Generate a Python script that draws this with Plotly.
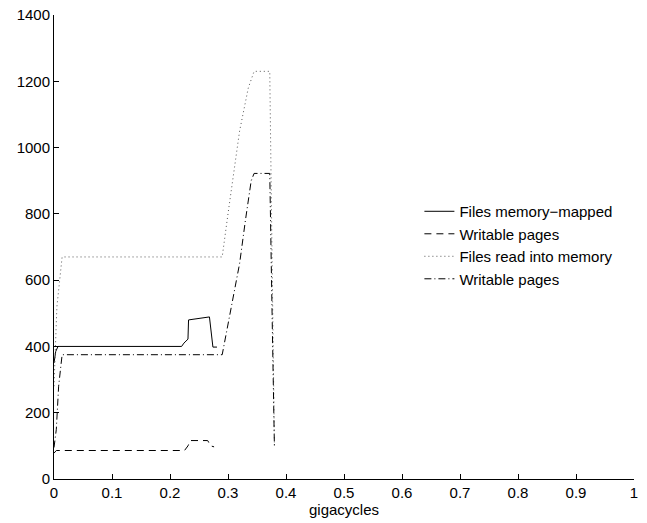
import plotly.graph_objects as go

# Memory usage (pages) against time in gigacycles
mm_x = [0.0, 0.003, 0.007, 0.22, 0.224, 0.231, 0.232, 0.268, 0.274, 0.281]
mm_y = [350, 385, 400, 400, 410, 422, 480, 489, 398, 398]

mm_w_x = [0.0, 0.004, 0.225, 0.231, 0.235, 0.265, 0.270, 0.276]
mm_w_y = [78, 86, 86, 100, 116, 116, 100, 97]

rd_x = [0.0, 0.005, 0.014, 0.29, 0.30, 0.31, 0.32, 0.335, 0.345, 0.372, 0.376, 0.38]
rd_y = [280, 520, 670, 670, 800, 930, 1050, 1180, 1230, 1230, 600, 100]

rd_w_x = [0.0, 0.004, 0.008, 0.014, 0.29, 0.30, 0.31, 0.32, 0.33, 0.34, 0.345, 0.372, 0.376, 0.38]
rd_w_y = [95, 150, 280, 375, 375, 470, 560, 650, 780, 900, 922, 922, 500, 100]

names = ["Files memory\u2212mapped", "Writable pages",
         "Files read into memory", "Writable pages"]
dashes = ["solid", "7px,5px", "1px,3px", "7px,3px,1px,3px"]
colors = ["#000000", "#000000", "#555555", "#000000"]

FONT = "Liberation Sans, Arial, Helvetica"

fig = go.Figure()
for xs, ys, nm, ds, col in zip([mm_x, mm_w_x, rd_x, rd_w_x],
                               [mm_y, mm_w_y, rd_y, rd_w_y],
                               names, dashes, colors):
    fig.add_trace(go.Scatter(x=xs, y=ys, mode="lines", name=nm,
                             line=dict(color=col, width=1, dash=ds)))

axis_common = dict(showgrid=False, zeroline=False, showline=True,
                   linecolor="#000000", linewidth=1, ticks="inside",
                   ticklen=5, tickcolor="#000000", automargin=False,
                   tickfont=dict(family=FONT, size=15, color="#000000"))

fig.update_layout(
    width=647, height=523,
    margin=dict(l=54, r=13, t=15, b=44),
    paper_bgcolor="white", plot_bgcolor="white",
    font=dict(family=FONT, size=15, color="#000000"),
    xaxis=dict(range=[0, 1], tickvals=[i / 10 for i in range(11)],
               ticktext=["0", "0.1", "0.2", "0.3", "0.4", "0.5", "0.6",
                         "0.7", "0.8", "0.9", "1"],
               title=dict(text="gigacycles", standoff=3,
                          font=dict(size=15)),
               **axis_common),
    yaxis=dict(range=[0, 1400], tickvals=list(range(0, 1401, 200)),
               **axis_common),
    legend=dict(x=0.63, y=0.612, xanchor="left", yanchor="top",
                bgcolor="rgba(0,0,0,0)", borderwidth=0,
                font=dict(size=15), tracegroupgap=0, itemwidth=30),
    showlegend=True,
)

fig.write_html("out.html")
